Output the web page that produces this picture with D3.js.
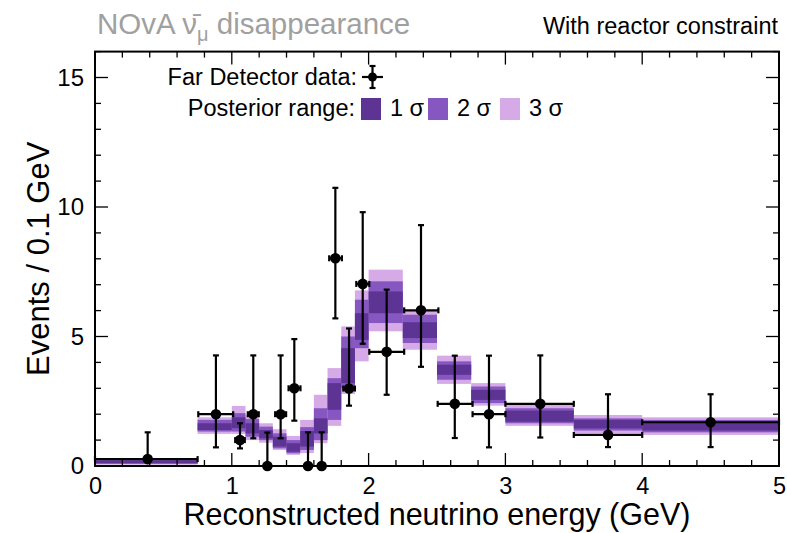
<!DOCTYPE html>
<html><head><meta charset="utf-8">
<script src="https://cdn.jsdelivr.net/npm/d3@7"></script>
<style>body{margin:0;background:#fff}svg{display:block;font-family:"Liberation Sans",Arial,Helvetica,sans-serif}</style>
</head><body><svg id="c" width="787" height="533"></svg>
<script>
// ---- data ----
const binEdges = [0,0.75,1.0,1.1,1.2,1.3,1.4,1.5,1.6,1.7,1.8,1.9,2.0,2.25,2.5,2.75,3.0,3.5,4.0,5.0];
const lo3 = [0.05,1.24,1.24,1.00,0.90,0.62,0.43,0.50,0.88,1.55,2.78,4.04,5.20,4.49,3.17,2.33,1.55,1.26,1.20];
const hi3 = [0.28,1.88,2.32,1.97,1.65,1.42,1.16,1.78,2.75,3.78,5.39,6.78,7.58,6.00,4.26,3.20,2.36,1.97,1.88];
const lo2 = [0.08,1.33,1.33,1.13,1.00,0.68,0.49,0.62,1.00,1.78,3.00,4.55,5.52,4.75,3.33,2.43,1.65,1.37,1.30];
const hi2 = [0.24,1.78,2.04,1.81,1.52,1.26,1.00,1.50,2.23,3.39,5.00,6.42,7.13,5.84,4.04,3.07,2.23,1.84,1.78];
const lo1 = [0.11,1.39,1.46,1.26,1.07,0.75,0.55,0.75,1.26,2.17,3.20,4.87,5.90,4.94,3.52,2.55,1.71,1.45,1.37];
const hi1 = [0.20,1.65,1.88,1.65,1.39,1.13,0.88,1.35,1.84,3.20,4.55,5.90,6.74,5.55,3.91,2.94,2.14,1.78,1.71];

const dataX   = [0.385,0.884,1.06,1.157,1.26,1.357,1.457,1.557,1.657,1.757,1.857,1.957,2.132,2.383,2.63,2.88,3.255,3.75,4.5];
const dataXlo = [0.0,0.755,1.025,1.117,1.26,1.317,1.415,1.557,1.657,1.712,1.815,1.91,2.005,2.26,2.505,2.76,3.0,3.5,4.0];
const dataXhi = [0.75,1.01,1.095,1.197,1.26,1.397,1.502,1.557,1.657,1.805,1.9,2.005,2.26,2.51,2.76,3.0,3.5,4.0,5.0];
const dataY   = [0.267,2.0,1.0,2.0,0,2.0,3.0,0,0,8.02,2.99,7.03,4.41,6.01,2.4,2.0,2.4,1.2,1.69];
const dataYlo = [0.15,0.72,0.68,1.07,0,1.07,1.75,0,0,5.70,2.33,4.72,2.75,3.83,1.08,0.72,1.10,0.73,0.73];
const dataYhi = [1.30,4.27,1.65,4.27,1.29,4.27,4.90,1.30,1.30,10.74,5.31,9.80,6.81,9.30,4.26,4.26,4.27,2.77,2.77];

const xTicks = [0,1,2,3,4,5];
const yTicks = [0,5,10,15];
const sigmaLabels = ["1 σ","2 σ","3 σ"];
const sigmaColors = ["#5d3494","#8656c1","#d6aae6"];

// ---- layout ----
const svg = d3.select("#c");
const L=95, R=779, T=51.6, B=466;
const x = d3.scaleLinear().domain([0,5]).range([L,R]);
const y = d3.scaleLinear().domain([0,16]).range([B,T]);

// bands
const bins = d3.range(binEdges.length-1).map(i=>({x0:binEdges[i],x1:binEdges[i+1],
  levels:[[lo3[i],hi3[i]],[lo2[i],hi2[i]],[lo1[i],hi1[i]]]}));
const gB = svg.append("g");
[0,1,2].forEach(k=>{
  gB.selectAll(null).data(bins).enter().append("rect")
    .attr("x",d=>x(d.x0)).attr("width",d=>x(d.x1)-x(d.x0))
    .attr("y",d=>y(d.levels[k][1])).attr("height",d=>y(d.levels[k][0])-y(d.levels[k][1]))
    .attr("fill",sigmaColors[2-k]);
});

// axes (ticks on all sides, inward)
function axisTicks(){
  const g = svg.append("g").attr("stroke","#000").attr("stroke-width",1.3);
  const xMinor = d3.range(0,5.0001,0.2);
  xMinor.forEach(v=>{
    const major = Math.abs(v-Math.round(v))<1e-6;
    const len = major?13:6;
    g.append("line").attr("x1",x(v)).attr("x2",x(v)).attr("y1",B).attr("y2",B-len);
    g.append("line").attr("x1",x(v)).attr("x2",x(v)).attr("y1",T).attr("y2",T+len);
  });
  d3.range(0,16.0001,1).forEach(v=>{
    const major = v%5===0;
    const len = major?13:6;
    g.append("line").attr("y1",y(v)).attr("y2",y(v)).attr("x1",L).attr("x2",L+len);
    g.append("line").attr("y1",y(v)).attr("y2",y(v)).attr("x1",R).attr("x2",R-len);
  });
}
axisTicks();
svg.append("rect").attr("x",L).attr("y",T).attr("width",R-L).attr("height",B-T)
  .attr("fill","none").attr("stroke","#000").attr("stroke-width",2);

const xAxis = d3.axisBottom(x).tickValues(xTicks).tickSize(0).tickPadding(11).tickFormat(d3.format("d"));
const gx = svg.append("g").attr("transform",`translate(0,${B})`).call(xAxis);
gx.select(".domain").remove();
gx.selectAll("text").attr("font-size",23.5).attr("font-family","Liberation Sans, Arial").attr("fill","#000");
const yAxis = d3.axisLeft(y).tickValues(yTicks).tickSize(0).tickPadding(11).tickFormat(d3.format("d"));
const gy = svg.append("g").attr("transform",`translate(${L},0)`).call(yAxis);
gy.select(".domain").remove();
gy.selectAll("text").attr("font-size",24).attr("font-family","Liberation Sans, Arial").attr("fill","#000");

// data points
const pts = dataX.map((v,i)=>({x:v,xl:dataXlo[i],xh:dataXhi[i],y:dataY[i],yl:dataYlo[i],yh:dataYhi[i]}));
const gD = svg.append("g").attr("stroke","#000").attr("stroke-width",2.2);
const cap=3;
pts.forEach(p=>{
  const cx=x(p.x), cy=y(p.y);
  if (p.yh>p.y){ gD.append("line").attr("x1",cx).attr("x2",cx).attr("y1",cy).attr("y2",y(p.yh));
    gD.append("line").attr("x1",cx-cap).attr("x2",cx+cap).attr("y1",y(p.yh)).attr("y2",y(p.yh)); }
  if (p.yl<p.y){ gD.append("line").attr("x1",cx).attr("x2",cx).attr("y1",cy).attr("y2",y(p.yl));
    gD.append("line").attr("x1",cx-cap).attr("x2",cx+cap).attr("y1",y(p.yl)).attr("y2",y(p.yl)); }
  if (p.xh>p.xl){ gD.append("line").attr("x1",x(p.xl)).attr("x2",x(p.xh)).attr("y1",cy).attr("y2",cy);
    [p.xl,p.xh].forEach(e=>gD.append("line").attr("x1",x(e)).attr("x2",x(e)).attr("y1",cy-cap).attr("y2",cy+cap)); }
  svg.append("circle").attr("cx",cx).attr("cy",cy).attr("r",5.3).attr("fill","#000");
});

// titles
const title = svg.append("text").attr("x",97).attr("y",34).attr("font-size",29.5).attr("fill","#a0a0a0");
title.append("tspan").text("NOvA ν\u0304");
title.append("tspan").attr("font-size",20).attr("dy",7).text("μ");
title.append("tspan").attr("dy",-7).text(" disappearance");
svg.append("text").attr("x",778).attr("y",34).attr("text-anchor","end").attr("font-size",23.5).attr("fill","#000")
  .text("With reactor constraint");
svg.append("text").attr("x",(L+R)/2).attr("y",525).attr("text-anchor","middle").attr("font-size",30.5).attr("fill","#000")
  .text("Reconstructed neutrino energy (GeV)");
svg.append("text").attr("transform",`translate(49,${(B+T)/2+0}) rotate(-90)`).attr("text-anchor","middle")
  .attr("font-size",31).attr("fill","#000").text("Events / 0.1 GeV");

// legend
svg.append("text").attr("x",357).attr("y",85).attr("text-anchor","end").attr("font-size",23.5).text("Far Detector data:");
const lg = svg.append("g").attr("stroke","#000").attr("stroke-width",2.2);
lg.append("line").attr("x1",362).attr("x2",383).attr("y1",77).attr("y2",77);
lg.append("line").attr("x1",372.5).attr("x2",372.5).attr("y1",66).attr("y2",88);
lg.append("line").attr("x1",369.5).attr("x2",375.5).attr("y1",66).attr("y2",66);
lg.append("line").attr("x1",369.5).attr("x2",375.5).attr("y1",88).attr("y2",88);
svg.append("circle").attr("cx",372.5).attr("cy",77).attr("r",4.5).attr("fill","#000");
svg.append("text").attr("x",355).attr("y",116).attr("text-anchor","end").attr("font-size",23.5).text("Posterior range:");
const swX = [361,428,500];
sigmaLabels.forEach((s,i)=>{
  svg.append("rect").attr("x",swX[i]).attr("y",98).attr("width",20).attr("height",22).attr("fill",sigmaColors[i]);
  svg.append("text").attr("x",swX[i]+29).attr("y",116).attr("font-size",23.5).text(s);
});
</script></body></html>
